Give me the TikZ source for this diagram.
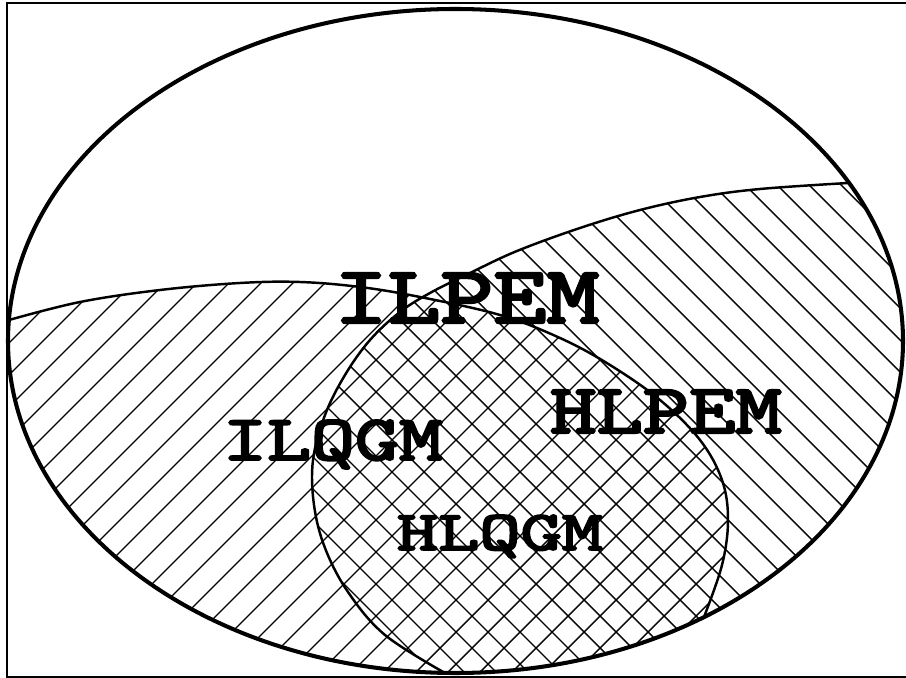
\documentclass[tikz,border=0pt]{standalone}
\usepackage{fontspec}
\usepackage{graphicx}
\usepackage{tikz}
\newfontfamily\setfont{Latin Modern Mono}[FakeBold=3]
\usetikzlibrary{calc}

\tikzset{
  hatch/.style={line width=0.8pt},
  border/.style={line width=1.4pt},
  setlabel/.style={anchor=base,inner sep=0pt}
}
\newcommand{\setname}[3]{\resizebox{#1}{#2}{\setfont #3}}

\begin{document}
\begin{tikzpicture}[x=0.02cm,y=-0.02cm]
\useasboundingbox (0,0) rectangle (906,678);
\draw[line width=1.1pt] (906,3) -- (7,3) -- (7,677) -- (906,677);
\begin{scope}
\clip (455.5,341) ellipse [x radius=447.5, y radius=332];
% left set
\begin{scope}
\clip (-10,320) -- plot[smooth,tension=0.6] coordinates {(9,320) (80,302) (160,290) (240,283) (300,282) (360,287) (420,297) (500,315) (560,338) (610,365) (660,400) (700,440) (722,480) (728,520) (722,565) (704,617)} -- (704,700) -- (-10,700) -- cycle;
\foreach \c in {0,32,...,1600}{
  \draw[hatch] (\c,0) -- ++(-700,700);
}
\end{scope}
% right set
\begin{scope}
\clip (920,180) -- plot[smooth,tension=0.6] coordinates {(848,183) (760,189) (700,197) (640,210) (580,228) (517,251) (470,273) (430,293) (400,312) (370,340) (345,375) (325,415) (313,460) (314,505) (325,548) (348,592) (385,635) (445,673)} -- (445,700) -- (920,700) -- cycle;
\foreach \c in {-720,-688,...,940}{
  \draw[hatch] (\c,0) -- ++(700,700);
}
\end{scope}
\end{scope}
\draw[border] plot[smooth,tension=0.6] coordinates {(9,320) (80,302) (160,290) (240,283) (300,282) (360,287) (420,297) (500,315) (560,338) (610,365) (660,400) (700,440) (722,480) (728,520) (722,565) (704,617)};
\draw[border] plot[smooth,tension=0.6] coordinates {(848,183) (760,189) (700,197) (640,210) (580,228) (517,251) (470,273) (430,293) (400,312) (370,340) (345,375) (325,415) (313,460) (314,505) (325,548) (348,592) (385,635) (445,673)};
\draw[line width=2.3pt] (455.5,341) ellipse [x radius=447.5, y radius=332];
\node[setlabel] (ilpem) at (467,323) {\setname{5.3cm}{1.0cm}{ILPEM}};
\node[setlabel] (hlpem) at (666,433) {\setname{4.64cm}{0.86cm}{HLPEM}};
\node[setlabel] (ilqgm) at (333,460) {\setname{4.4cm}{0.8cm}{ILQGM}};
\node[setlabel] (hlqgm) at (500,550) {\setname{4.12cm}{0.7cm}{HLQGM}};
\end{tikzpicture}
\end{document}
